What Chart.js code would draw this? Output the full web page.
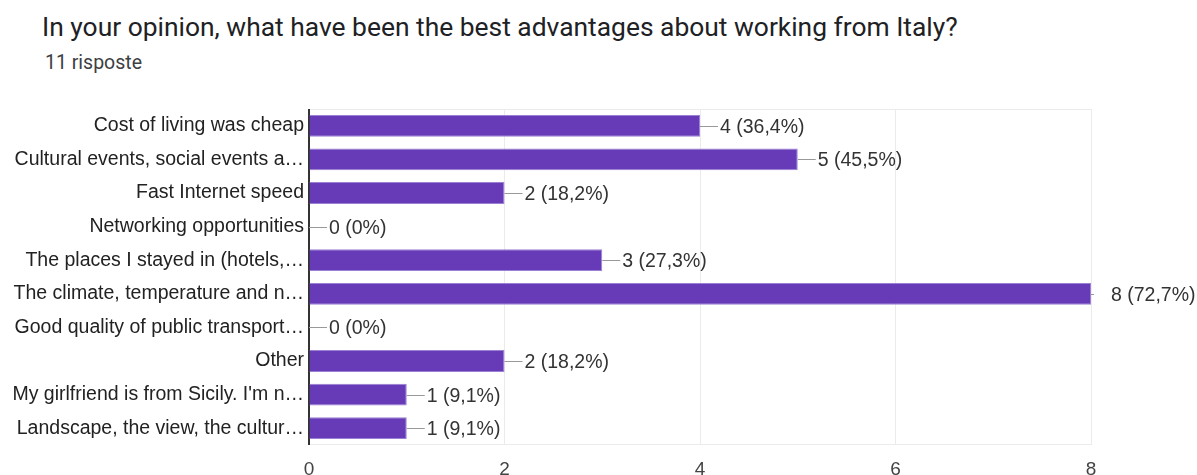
<!DOCTYPE html>
<html>
<head>
<meta charset="utf-8">
<title>Advantages of working from Italy</title>
<script src="https://cdn.jsdelivr.net/npm/chart.js@4/dist/chart.umd.min.js"></script>
<style>
  html, body { margin: 0; padding: 0; background: #fff; overflow: hidden; }
  #wrap { position: relative; width: 1197px; height: 475px; overflow: hidden; }
  #title { position: absolute; left: 42px; top: 12px; font-family: Roboto, sans-serif; font-size: 26.4px; color: #202124; white-space: nowrap; }
  #subtitle { position: absolute; left: 45px; top: 51px; font-family: Roboto, sans-serif; font-size: 19.5px; color: #3c4043; white-space: nowrap; }
  #myChart { position: absolute; left: 0; top: 0; }
</style>
</head>
<body>
<div id="wrap">
  <div id="title">In your opinion, what have been the best advantages about working from Italy?</div>
  <div id="subtitle">11 risposte</div>
  <canvas id="myChart" width="1197" height="490"></canvas>
</div>
<script>
// answers as shown on the form summary (long ones are cut with an ellipsis)
const answers = [
  'Cost of living was cheap',
  'Cultural events, social events a…',
  'Fast Internet speed',
  'Networking opportunities',
  'The places I stayed in (hotels,…',
  'The climate, temperature and n…',
  'Good quality of public transport…',
  'Other',
  'My girlfriend is from Sicily. I\'m n…',
  'Landscape, the view, the cultur…'
];
const counts = [4, 5, 2, 0, 3, 8, 0, 2, 1, 1];
const totalResponses = 11;
const xTicks = [0, 2, 4, 6, 8];

const labelFont = '"Liberation Sans", Arial, sans-serif';

// "4 (36,4%)" style label, comma as decimal separator
function countLabel(v) {
  if (v === 0) return '0 (0%)';
  const pct = (v / totalResponses * 100).toFixed(1).replace('.', ',');
  return v + ' (' + pct + '%)';
}

// light frame on top and bottom of the plot area
const plotFrame = {
  id: 'plotFrame',
  beforeDatasetsDraw(chart) {
    const {ctx, chartArea} = chart;
    ctx.save();
    ctx.strokeStyle = '#ebebeb';
    ctx.lineWidth = 1;
    ctx.beginPath();
    ctx.moveTo(chartArea.left, chartArea.top + 0.5);
    ctx.lineTo(chartArea.right, chartArea.top + 0.5);
    ctx.moveTo(chartArea.left, chartArea.bottom - 0.5);
    ctx.lineTo(chartArea.right, chartArea.bottom - 0.5);
    ctx.stroke();
    // axis line at zero drawn over the frame
    ctx.strokeStyle = '#333';
    ctx.lineWidth = 2;
    ctx.beginPath();
    ctx.moveTo(chartArea.left, chartArea.top);
    ctx.lineTo(chartArea.left, chartArea.bottom);
    ctx.stroke();
    ctx.restore();
  }
};

// leader line plus count/percent after each bar
const valueLabels = {
  id: 'valueLabels',
  afterDatasetsDraw(chart) {
    const {ctx, chartArea} = chart;
    const meta = chart.getDatasetMeta(0);
    ctx.save();
    ctx.font = '19.5px ' + labelFont;
    ctx.textBaseline = 'middle';
    ctx.textAlign = 'left';
    meta.data.forEach((bar, i) => {
      const x = bar.x;
      const y = Math.round(bar.y) + 0.5;
      const lineEnd = Math.min(x + 18, chartArea.right + 3);
      ctx.strokeStyle = '#999';
      ctx.lineWidth = 1;
      ctx.beginPath();
      ctx.moveTo(x, y);
      ctx.lineTo(lineEnd, y);
      ctx.stroke();
      ctx.fillStyle = '#333';
      ctx.fillText(countLabel(counts[i]), x + 20, y + 1);
    });
    ctx.restore();
  }
};

const ctx = document.getElementById('myChart').getContext('2d');
// eslint-disable-next-line no-undef
new Chart(ctx, {
  type: 'bar',
  data: {
    labels: answers,
    datasets: [{
      data: counts,
      backgroundColor: '#673ab7',
      borderColor: '#9c80d4',
      borderWidth: 1,
      borderSkipped: 'start',
      barPercentage: 0.65,
      categoryPercentage: 1
    }]
  },
  options: {
    indexAxis: 'y',
    responsive: false,
    animation: false,
    layout: { padding: { left: 0, right: 106, top: 109, bottom: 0 } },
    plugins: {
      legend: { display: false },
      tooltip: { enabled: false }
    },
    scales: {
      x: {
        min: 0,
        max: 8,
        afterBuildTicks(scale) {
          scale.ticks = xTicks.map(v => ({value: v}));
        },
        afterFit(scale) { scale.height = 45; },
        grid: {
          color: c => (c.tick && c.tick.value === 0) ? 'rgba(0,0,0,0)' : '#ebebeb',
          drawTicks: false
        },
        border: { display: false },
        ticks: {
          padding: 13,
          color: '#444',
          font: { family: labelFont, size: 19 }
        }
      },
      y: {
        afterFit(scale) { scale.width = 309; },
        grid: { display: false, drawTicks: false },
        border: { display: false },
        ticks: {
          padding: 5,
          color: '#222',
          font: { family: labelFont, size: 19.5 }
        }
      }
    }
  },
  plugins: [plotFrame, valueLabels]
});
</script>
</body>
</html>
